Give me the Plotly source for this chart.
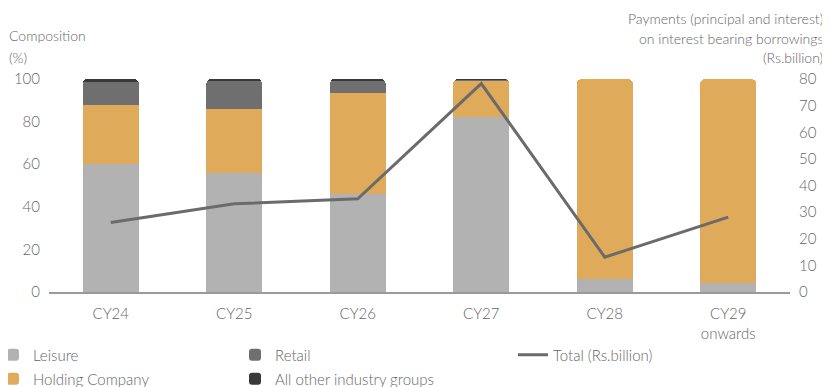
import plotly.graph_objects as go

categories = ["CY24", "CY25", "CY26", "CY27", "CY28", "CY29<br>onwards"]
leisure = [60.2, 55.8, 46.1, 82.2, 6.1, 4.1]
holding = [27.8, 30.3, 47.1, 17.3, 93.9, 95.9]
retail = [10.5, 13.2, 6.1, 0.3, 0.0, 0.0]
others = [1.5, 0.7, 0.7, 0.2, 0.0, 0.0]
total_rs_bn = [26.1, 33.1, 35.0, 78.3, 13.1, 28.1]

FONT = "Lato"
TXT = "#666666"
WT = 300

# figure is drawn 8px in from the page corner (default body margin)
W, H = 822, 379
L, R, T, B = 41, 40, 71, 95
PW, PH = W - L - R, H - T - B


def px(xp):  # page x -> paper x
    return (xp - 8 - L) / PW


def py(yp):  # page y -> paper y
    return (H - B - (yp - 8)) / PH


def f(size):
    return dict(family=FONT, size=size, color=TXT, weight=WT)


fig = go.Figure()
fig.add_trace(go.Bar(x=categories, y=leisure, name="Leisure", marker_color="#b2b2b2", legend="legend"))
fig.add_trace(go.Bar(x=categories, y=holding, name="Holding Company", marker_color="#dfaa5a", legend="legend2"))
fig.add_trace(go.Bar(x=categories, y=retail, name="Retail", marker_color="#6f6f6f", legend="legend3"))
fig.add_trace(go.Bar(x=categories, y=others, name="All other industry groups", marker_color="#393939",
                     legend="legend4"))
fig.add_trace(go.Scatter(x=categories, y=total_rs_bn, name="Total (Rs.billion)", mode="lines",
                         line=dict(color="#6b6b6b", width=3), yaxis="y2", legend="legend5"))

for t in fig.data:
    if isinstance(t, go.Bar):
        t.marker.line.width = 0

leg_common = dict(font=f(15), bgcolor="rgba(0,0,0,0)",
                  xanchor="left", yanchor="middle", orientation="v", itemclick=False)

fig.update_layout(
    width=W, height=H,
    barmode="stack", bargap=0.545, barcornerradius=5,
    plot_bgcolor="white", paper_bgcolor="white",
    margin=dict(l=L, r=R, t=T, b=B, autoexpand=False),
    font=f(14),
    xaxis=dict(showline=True, linecolor="#9a9a9a", linewidth=2, ticks="", automargin=False,
               ticklabelstandoff=7, tickfont=f(15), showgrid=False),
    yaxis=dict(range=[0, 100], tickvals=[0, 20, 40, 60, 80, 100], showgrid=False, automargin=False,
               zeroline=False, showline=False, ticklabelstandoff=8, tickfont=f(15)),
    yaxis2=dict(range=[0, 80], tickvals=[0, 10, 20, 30, 40, 50, 60, 70, 80], overlaying="y",
                side="right", showgrid=False, zeroline=False, showline=False, automargin=False,
                ticklabelstandoff=8, tickfont=f(15)),
    legend=dict(x=px(-7), y=py(355), **leg_common),
    legend2=dict(x=px(-7), y=py(379), **leg_common),
    legend3=dict(x=px(235), y=py(355), **leg_common),
    legend4=dict(x=px(235), y=py(379), **leg_common),
    legend5=dict(x=px(513), y=py(355), **leg_common),
    showlegend=True,
)

for txt, yc in [("Composition", 36), ("(%)", 57)]:
    fig.add_annotation(text=txt, xref="paper", yref="paper", x=px(7), y=py(yc),
                       xanchor="left", yanchor="middle", showarrow=False, font=f(14))
for txt, yc in [("Payments (principal and interest)", 18), ("on interest bearing borrowings", 38),
                ("(Rs.billion)", 57)]:
    fig.add_annotation(text=txt, xref="paper", yref="paper", x=px(825), y=py(yc),
                       xanchor="right", yanchor="middle", showarrow=False, font=f(14))

fig.write_html("out.html")
